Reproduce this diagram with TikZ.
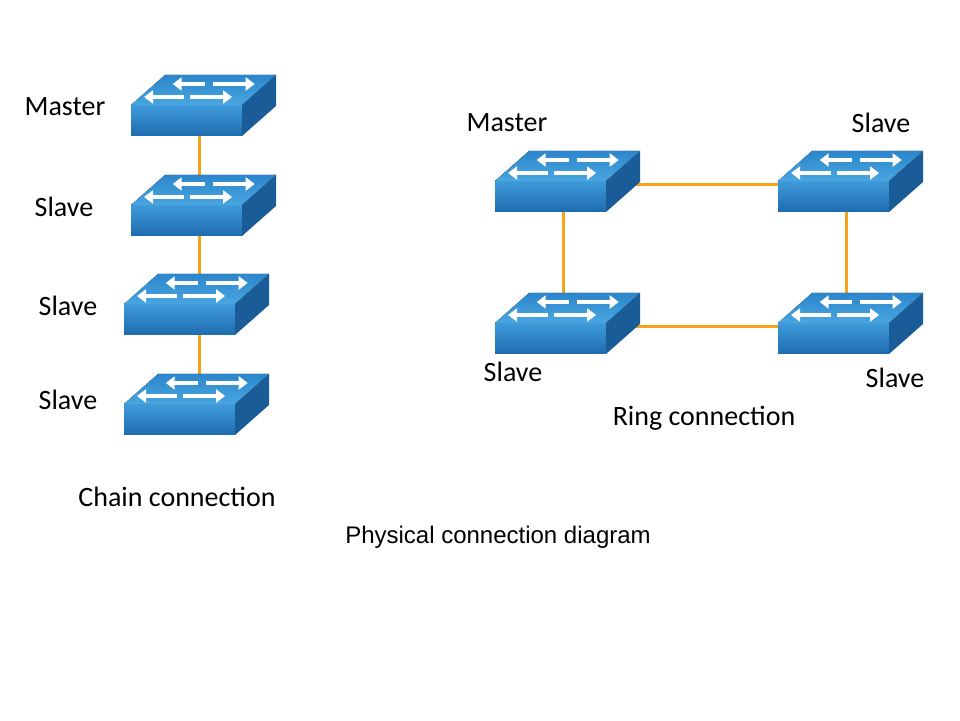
\documentclass[tikz,border=0pt]{standalone}
\usepackage{fontspec}
\setmainfont{Carlito}
\newfontfamily\arialf{Liberation Sans}
\usetikzlibrary{arrows.meta,backgrounds}
\definecolor{ftop}{HTML}{3F9BDA}
\definecolor{fbot}{HTML}{1E6BAE}
\definecolor{ttop}{HTML}{2C86CC}
\definecolor{tbot}{HTML}{4AA6E0}
\definecolor{side}{HTML}{1A5C97}
\definecolor{link}{HTML}{F7A21B}
\tikzset{
  x=1pt,y=1pt,
  lbl/.style={font=\fontsize{28}{30}\selectfont},
  captxt/.style={font=\fontsize{28}{30}\selectfont},
  wire/.style={link,line width=3pt},
  arr/.style={white,line width=4.5pt,-{Triangle[length=9pt,width=13pt]}},
  switch/.pic={
    \fill[top color=ftop,bottom color=fbot] (0,0) rectangle (111,-31);
    \fill[top color=ttop,bottom color=tbot] (0,0) -- (111,0) -- (145,30) -- (34,30) -- cycle;
    \fill[side] (111,0) -- (145,30) -- (145,-1) -- (111,-31) -- cycle;
    \begin{scope}[xslant=1.13]
      \draw[arr] (50,21) -- (18,21);
      \draw[arr] (58,21) -- (100,21);
      \draw[arr] (44,8) -- (4,8);
      \draw[arr] (50,8) -- (92,8);
    \end{scope}
    \coordinate (-bot) at (68,-31);
    \coordinate (-top) at (100,28);
    \coordinate (-r) at (130,-4);
    \coordinate (-l) at (10,-4);
  }
}
\begin{document}
\begin{tikzpicture}
\useasboundingbox (0,0) rectangle (960,720);
\pic (a1) at (131,615) {switch};
\pic (a2) at (131,515) {switch};
\pic (a3) at (124,416) {switch};
\pic (a4) at (124,316) {switch};
\pic (m) at (495,539) {switch};
\pic (s) at (778,539) {switch};
\pic (bl) at (495,397) {switch};
\pic (br) at (778,397) {switch};
\begin{pgfonlayer}{background}
\draw[wire] (a1-bot) -- (a1-bot |- a2-top);
\draw[wire] (a2-bot) -- (a2-bot |- a3-top);
\draw[wire] ([xshift=7pt]a3-bot) -- ([xshift=7pt]a3-bot |- a4-top);
\draw[wire] (m-r) -- (s-l);
\draw[wire] (bl-r) -- (br-l);
\draw[wire] (m-bot) -- (m-bot |- bl-top);
\draw[wire] (s-bot) -- (s-bot |- br-top);
\end{pgfonlayer}
\node[lbl] (t1) at (65,613) {Master};
\node[lbl] (t2) at (64,513) {Slave};
\node[lbl] (t3) at (68,414) {Slave};
\node[lbl] (t4) at (68,320) {Slave};
\node[captxt] (t5) at (177,223) {Chain connection};
\node[lbl] (t6) at (507,597) {Master};
\node[lbl] (t7) at (881,597) {Slave};
\node[lbl] (t8) at (513,348) {Slave};
\node[lbl] (t9) at (895,342) {Slave};
\node[captxt] (t10) at (704,302) {Ring connection};
\node[font=\arialf\fontsize{24}{26}\selectfont] (t11) at (498,183) {Physical connection diagram};
\end{tikzpicture}
\end{document}
